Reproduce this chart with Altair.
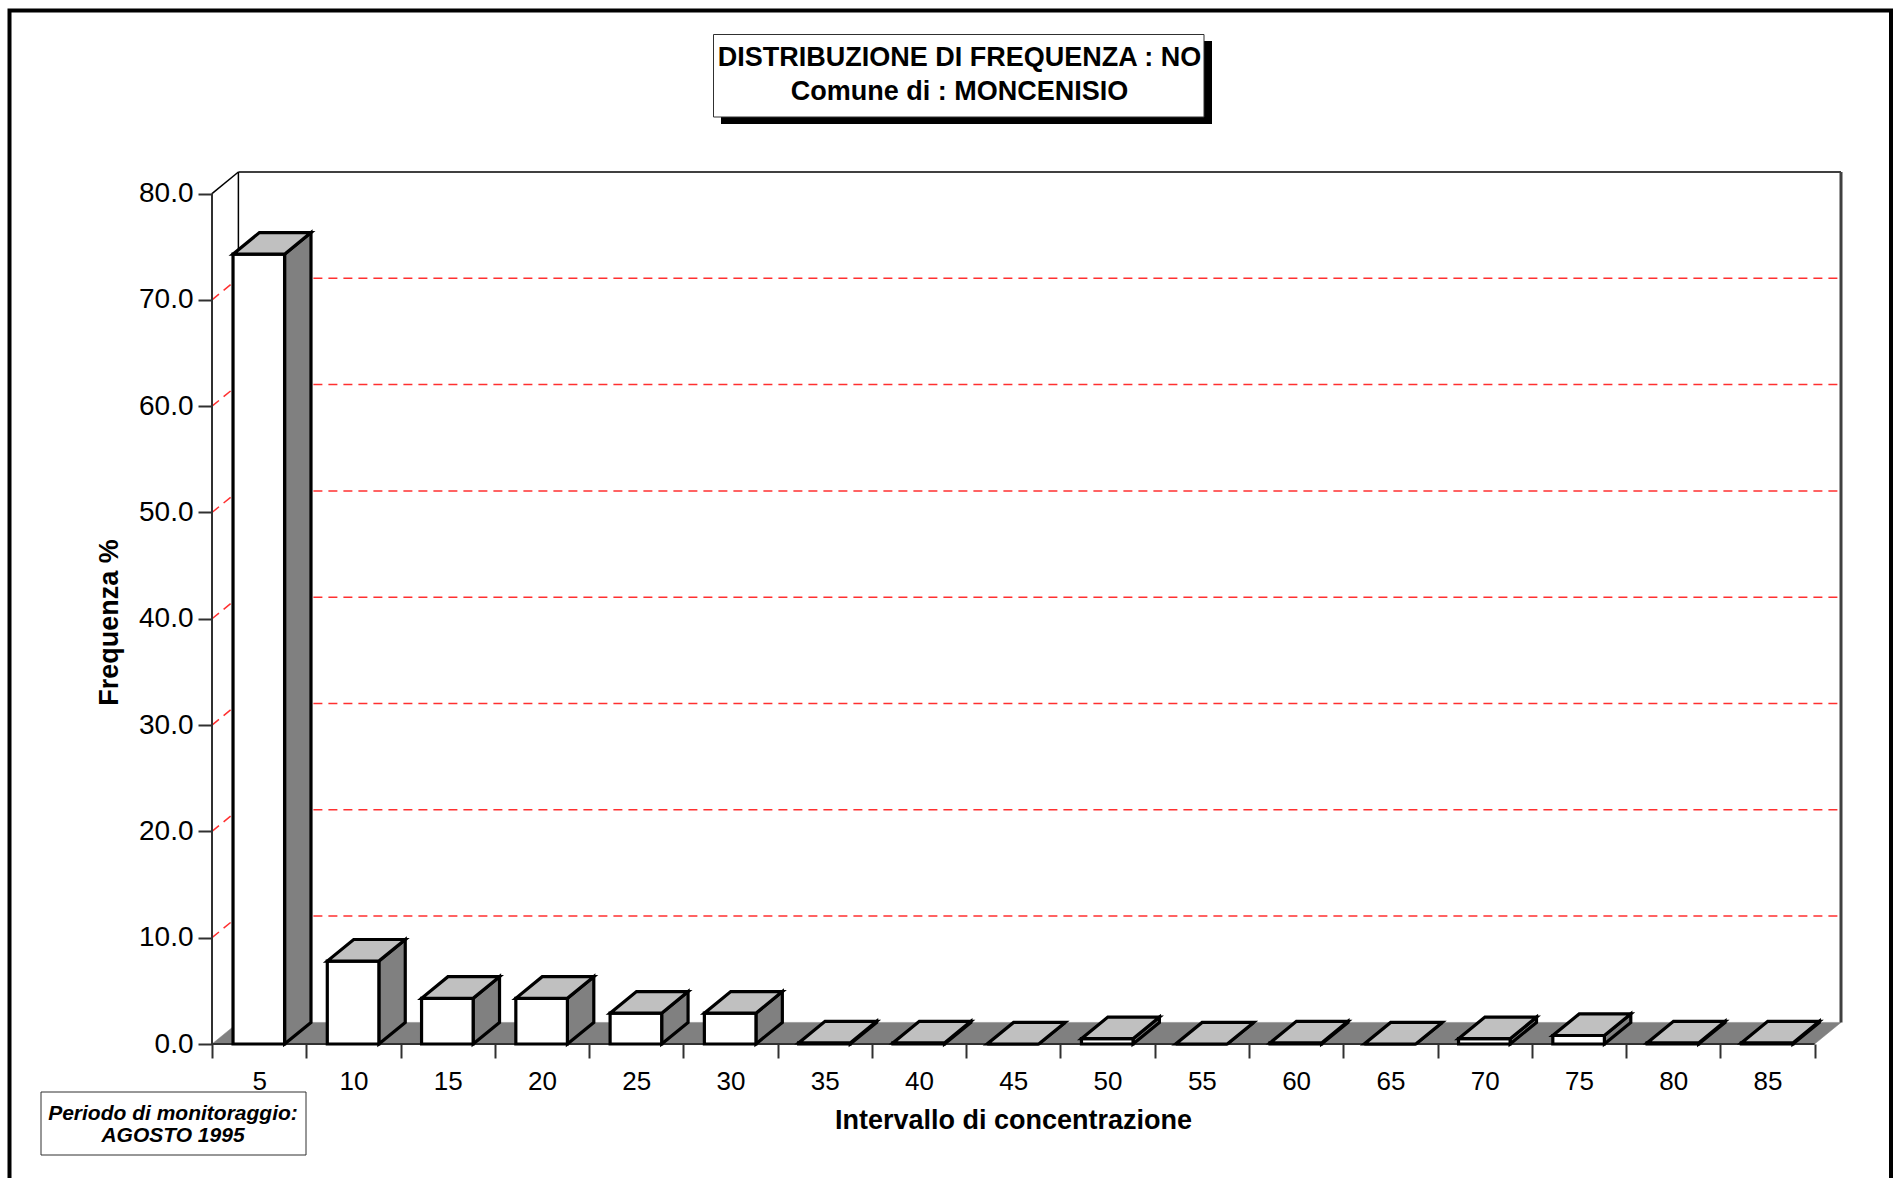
import json
import altair as alt
import pandas as pd

# ---- chart values --------------------------------------------------------
categories = ["5", "10", "15", "20", "25", "30", "35", "40", "45",
              "50", "55", "60", "65", "70", "75", "80", "85"]
frequencies = [74.3, 7.8, 4.3, 4.3, 2.9, 2.9, 0.1, 0.1, 0.0,
               0.5, 0.0, 0.1, 0.0, 0.5, 0.8, 0.1, 0.1]
y_ticks = [0, 10, 20, 30, 40, 50, 60, 70, 80]
grid_values = [10, 20, 30, 40, 50, 60, 70]
title_lines = ["DISTRIBUZIONE DI FREQUENZA : NO", "Comune di : MONCENISIO"]
period_lines = ["Periodo di monitoraggio:", "AGOSTO 1995"]
x_title = "Intervallo di concentrazione"
y_title = "Frequenza %"

# ---- geometry / style ----------------------------------------------------
FONT = "Liberation Sans"
N = len(categories)
Y_MAX = y_ticks[-1]
DX, DY = 0.28, 2.03          # depth of the 3-D box (x units, y units)
BAR_OFF, BAR_W = 0.223, 0.547
LEFT, TOP, W, H = 212, 172, 1629, 872
CAT_PX = W / (N + DX)
FRONT, SIDE, TOPFACE = "#ffffff", "#808080", "#c0c0c0"
EDGE = 3.2


def px(v):
    return v - LEFT


def py(v):
    return v - TOP


x_scale = alt.Scale(domain=[0, N + DX], nice=False, zero=False)
y_scale = alt.Scale(domain=[0, Y_MAX + DY], nice=False, zero=False)

x_axis = alt.Axis(
    values=list(range(N + 1)),
    labelExpr=f"{json.dumps(categories)}[datum.value] || ''",
    labelOffset=CAT_PX / 2, labelAngle=0, labelFlush=False, labelOverlap=False,
    labelFont=FONT, labelFontSize=26, labelColor="black", labelPadding=10,
    tickSize=14, tickColor="#303030", tickWidth=2,
    domain=False, grid=False,
    title=x_title, titleFont=FONT, titleFontSize=27, titleFontWeight="bold",
    titleColor="black", titleX=801, titleY=84, titleAlign="center",
    titleBaseline="alphabetic", titleAnchor="start",
)
y_axis = alt.Axis(
    values=y_ticks, format=".1f",
    labelFont=FONT, labelFontSize=28, labelColor="black", labelPadding=5,
    tickSize=14, tickColor="#303030", tickWidth=2,
    domain=False, grid=False,
    title=y_title, titleFont=FONT, titleFontSize=27, titleFontWeight="bold",
    titleColor="black", titleAngle=270, titleX=-95, titleY=450,
    titleAlign="center", titleBaseline="alphabetic", titleAnchor="start",
)


def X(f):
    return alt.X(f"{f}:Q", scale=x_scale, axis=x_axis)


def Y(f):
    return alt.Y(f"{f}:Q", scale=y_scale, axis=y_axis, stack=None)


# ---- tables built from the values ---------------------------------------
front_rows, side_rows, top_rows = [], [], []
for i, v in enumerate(frequencies):
    x0 = i + BAR_OFF
    x1 = x0 + BAR_W
    front_rows.append({"bar": i, "x": x0, "x2": x1, "y": 0.0, "y2": v})
    side_rows += [
        {"bar": i, "x": x1, "y": 0.0, "y2": v},
        {"bar": i, "x": x1 + DX, "y": DY, "y2": v + DY},
    ]
    top_rows += [
        {"bar": i, "x": x0, "y": v, "y2": v},
        {"bar": i, "x": x0 + DX, "y": v, "y2": v + DY},
        {"bar": i, "x": x1, "y": v, "y2": v + DY},
        {"bar": i, "x": x1 + DX, "y": v + DY, "y2": v + DY},
    ]
front_df = pd.DataFrame(front_rows)
side_df = pd.DataFrame(side_rows)
top_df = pd.DataFrame(top_rows)

floor_df = pd.DataFrame({
    "x": [0, DX, N, N + DX],
    "y": [0, 0, 0, DY],
    "y2": [0, DY, DY, DY],
})

wall_df = pd.DataFrame([
    {"x": DX, "x2": DX, "y": DY, "y2": Y_MAX + DY},
    {"x": DX, "x2": N + DX, "y": Y_MAX + DY, "y2": Y_MAX + DY},
    {"x": 0, "x2": DX, "y": Y_MAX, "y2": Y_MAX + DY},
])
right_wall_df = pd.DataFrame([{"x": N + DX, "x2": N + DX, "y": DY, "y2": Y_MAX + DY}])

grid_rows = []
for g in grid_values:
    grid_rows.append({"x": DX, "x2": N + DX, "y": g + DY, "y2": g + DY})
    grid_rows.append({"x": 0, "x2": DX, "y": g, "y2": g + DY})
grid_df = pd.DataFrame(grid_rows)

axis_line_df = pd.DataFrame([
    {"x": 0, "x2": 0, "y": 0, "y2": Y_MAX},
    {"x": 0, "x2": N, "y": 0, "y2": 0},
])

one = pd.DataFrame({"k": [0]})

# ---- layers ----------------------------------------------------------------
floor = alt.Chart(floor_df).mark_area(fill=SIDE, stroke=SIDE, strokeWidth=0.5).encode(
    x=X("x"), y=Y("y"), y2="y2")

walls = alt.Chart(wall_df).mark_rule(color="black", strokeWidth=1.5).encode(
    x=X("x"), x2="x2", y=Y("y"), y2="y2")
right_wall = alt.Chart(right_wall_df).mark_rule(color="#404040", strokeWidth=3).encode(
    x=X("x"), x2="x2", y=Y("y"), y2="y2")

grid = alt.Chart(grid_df).mark_rule(color="#ff3030", strokeWidth=1.5, strokeDash=[9, 6]).encode(
    x=X("x"), x2="x2", y=Y("y"), y2="y2")

axis_lines = alt.Chart(axis_line_df).mark_rule(color="#303030", strokeWidth=2).encode(
    x=X("x"), x2="x2", y=Y("y"), y2="y2")

sides = alt.Chart(side_df).mark_area(
    fill=SIDE, stroke="black", strokeWidth=EDGE, strokeJoin="miter").encode(
    x=X("x"), y=Y("y"), y2="y2", detail="bar:N")
fronts = alt.Chart(front_df).mark_rect(
    fill=FRONT, stroke="black", strokeWidth=EDGE, strokeJoin="miter").encode(
    x=X("x"), x2="x2", y=Y("y"), y2="y2")
tops = alt.Chart(top_df).mark_area(
    fill=TOPFACE, stroke="black", strokeWidth=EDGE, strokeJoin="miter").encode(
    x=X("x"), y=Y("y"), y2="y2", detail="bar:N")

# outer frame
frame = alt.Chart(one).mark_rect(filled=False, stroke="black", strokeWidth=4).encode(
    x=alt.value(px(9.5)), x2=alt.value(px(1891)),
    y=alt.value(py(10.5)), y2=alt.value(py(1190)))

# title box with drop shadow
title_shadow = alt.Chart(one).mark_rect(fill="black").encode(
    x=alt.value(px(721)), x2=alt.value(px(1212)),
    y=alt.value(py(41)), y2=alt.value(py(124)))
title_box = alt.Chart(one).mark_rect(fill="white", stroke="#303030", strokeWidth=1).encode(
    x=alt.value(px(713.5)), x2=alt.value(px(1204)),
    y=alt.value(py(34.5)), y2=alt.value(py(117)))
title_text = [
    alt.Chart(one).mark_text(text=t, font=FONT, fontSize=27, fontWeight="bold",
                             align="center", baseline="alphabetic", color="black").encode(
        x=alt.value(px(959.5)), y=alt.value(py(b)))
    for t, b in zip(title_lines, [65.5, 100])
]

# monitoring period box
period_box = alt.Chart(one).mark_rect(fill="white", stroke="#303030", strokeWidth=1).encode(
    x=alt.value(px(41)), x2=alt.value(px(306)),
    y=alt.value(py(1092)), y2=alt.value(py(1155)))
period_text = [
    alt.Chart(one).mark_text(text=t, font=FONT, fontSize=21, fontWeight="bold",
                             fontStyle="italic", align="center", baseline="alphabetic",
                             color="black").encode(
        x=alt.value(px(173)), y=alt.value(py(b)))
    for t, b in zip(period_lines, [1120, 1142])
]

chart = alt.layer(
    floor, walls, right_wall, grid, axis_lines, sides, fronts, tops,
    frame, title_shadow, title_box, *title_text, period_box, *period_text,
).properties(
    width=W, height=H,
    padding={"left": LEFT, "top": TOP, "right": 1897 - LEFT - W, "bottom": 1178 - TOP - H},
    autosize=alt.AutoSizeParams(type="none"),
    background="white",
).configure(font=FONT).configure_view(stroke=None)

chart.save("out.html", embed_options={"renderer": "svg", "actions": False})
